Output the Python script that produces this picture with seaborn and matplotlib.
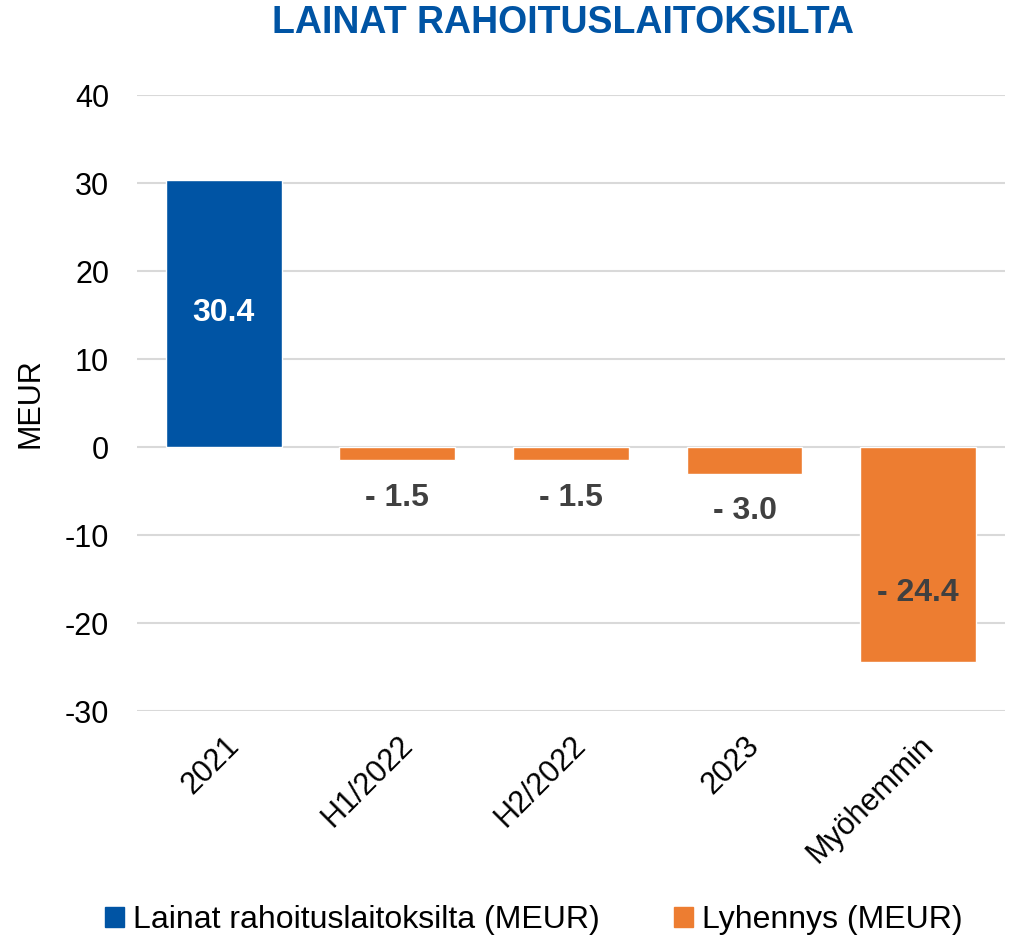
import matplotlib
matplotlib.use("Agg")
import matplotlib.pyplot as plt
import seaborn as sns
import pandas as pd
from matplotlib.patches import Patch

# data
categories = ["2021", "H1/2022", "H2/2022", "2023", "Myöhemmin"]
values = [30.4, -1.5, -1.5, -3.0, -24.4]
series = ["Lainat rahoituslaitoksilta (MEUR)", "Lyhennys (MEUR)",
          "Lyhennys (MEUR)", "Lyhennys (MEUR)", "Lyhennys (MEUR)"]
labels = ["30.4", "- 1.5", "- 1.5", "- 3.0", "- 24.4"]
yticks = [-30, -20, -10, 0, 10, 20, 30, 40]

blue = "#0054A4"
orange = "#ED7D31"
palette = {"Lainat rahoituslaitoksilta (MEUR)": blue, "Lyhennys (MEUR)": orange}

df = pd.DataFrame({"cat": categories, "val": values, "series": series})

sns.set_style("white")
plt.rcParams["font.family"] = ["Liberation Sans", "DejaVu Sans"]
plt.rcParams["text.color"] = "black"
plt.rcParams["xtick.color"] = "black"
plt.rcParams["ytick.color"] = "black"
plt.rcParams["axes.labelcolor"] = "black"

fig = plt.figure(figsize=(10.15, 9.43), dpi=100)
ax = fig.add_axes([0.135, 0.246, 0.855, 0.653])

sns.barplot(data=df, x="cat", y="val", hue="series", palette=palette,
            dodge=False, width=0.667, saturation=1, legend=False, ax=ax, zorder=3)

ax.set_ylim(-30, 40)
ax.set_yticks(yticks)
ax.set_yticklabels([str(t) for t in yticks], fontsize=22)
ax.yaxis.grid(True, color="#D9D9D9", linewidth=1.5, zorder=0)
ax.set_axisbelow(True)
for s in ax.spines.values():
    s.set_visible(False)
ax.tick_params(axis="y", length=0, pad=20)
ax.tick_params(axis="x", length=0, pad=14)
ax.set_xlabel("")
ax.set_ylabel("MEUR", fontsize=22, labelpad=14)
plt.setp(ax.get_xticklabels(), rotation=45, ha="right", rotation_mode="anchor", fontsize=22)

# value labels
for i, (v, lab) in enumerate(zip(values, labels)):
    if v > 0:
        ax.text(i, v / 2, lab, color="white", fontsize=23, fontweight="bold",
                ha="center", va="center")
    elif v > -10:
        ax.text(i, v - 4.3, lab, color="#404040", fontsize=23, fontweight="bold",
                ha="center", va="center")
    else:
        ax.text(i, v * 0.68, lab, color="#404040", fontsize=23, fontweight="bold",
                ha="center", va="center")

fig.text(0.555, 0.976, "LAINAT RAHOITUSLAITOKSILTA", color=blue, fontsize=27,
         fontweight="bold", ha="center", va="center")

handles = [Patch(color=blue, label="Lainat rahoituslaitoksilta (MEUR)"),
           Patch(color=orange, label="Lyhennys (MEUR)")]
fig.legend(handles=handles, loc="center", bbox_to_anchor=(0.526, 0.024), ncol=2,
           frameon=False, handlelength=0.6, handleheight=0.6,
           handletextpad=0.3, columnspacing=2.3,
           prop={"family": ["Liberation Sans"], "size": 23})

fig.savefig("out.png", dpi=100)
